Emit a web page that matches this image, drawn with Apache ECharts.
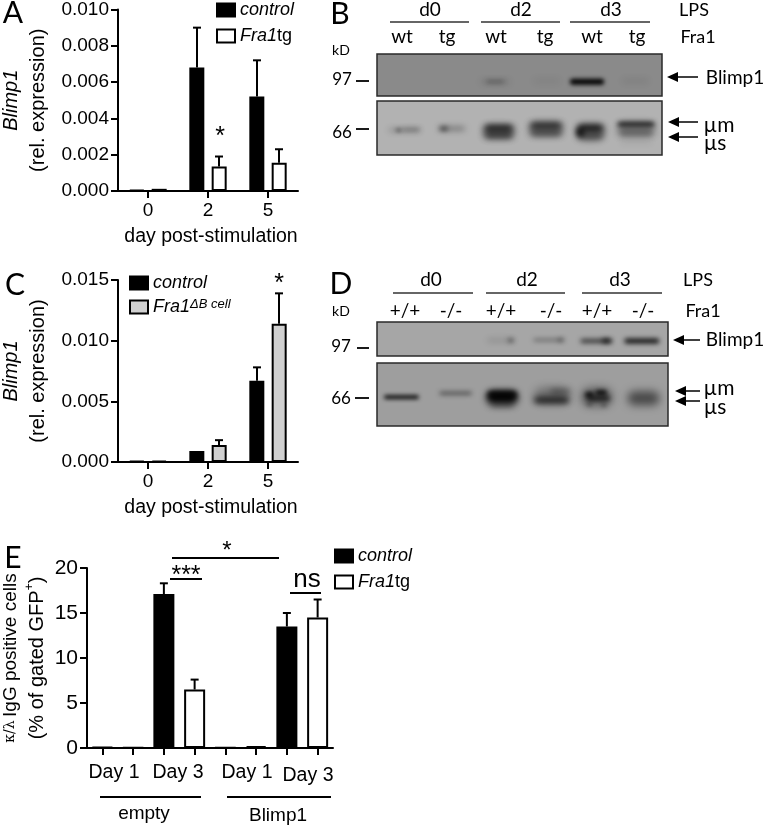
<!DOCTYPE html>
<html><head><meta charset="utf-8">
<style>html,body{margin:0;padding:0;background:#fff}#c{width:764px;height:827px}</style>
<script src="https://cdn.jsdelivr.net/npm/echarts@6/dist/echarts.min.js"></script>
</head><body><div id="c"></div>
<script>
// ---- Panel A ----
const daysA = ['0','2','5'];
const controlA = [0.00005,0.0068,0.0052];
const controlAErr = [null,0.0090,0.0072];
const fraA = [0.00012,0.00135,0.00155];
const fraAErr = [null,0.0019,0.0023];
// ---- Panel C ----
const daysC = ['0','2','5'];
const controlC = [0.00007,0.0009,0.0067];
const controlCErr = [null,null,0.0078];
const fraC = [0.0001,0.0014,0.0114];
const fraCErr = [null,0.0018,0.0139];
// ---- Panel E ----
const catsE = ['c1','f1','c3','f3','bc1','bf1','bc3','bf3'];
const controlE = [0.1,null,17.1,null,0.03,null,13.5,null];
const controlEErr = [null,null,18.3,null,null,null,15.0,null];
const fraE = [null,0.05,null,6.5,null,0.2,null,14.5];
const fraEErr = [null,null,null,7.6,null,null,null,16.5];
// ---- Blot bands: lane-x %, y %, width %, height %, darkness, blur ----
const blotBTop = [[41.5,66,6,3,.75,5],[41.5,66,10,4,.35,6],[59.6,64,9,3,.25,7],[73.7,66,12,14,1,4],[90.6,64,9,3,.32,7]];
const blotBBot = [[9.6,54,11,3,.45,6],[7.6,54,2,5,.6,4],[12,53,6,3,.55,5],[26.3,51,9,5,.55,6],[23.4,51,3,7,.6,5],
  [42.7,57,11,24,.45,7],[42.7,50,10,9,.92,6],[42.7,64,10,8,.7,6],[59.3,52,12,26,.4,7],[59.3,45,11,8,.95,6],[59.3,60,11,7,.62,6],
  [74.9,58,10,30,.4,7],[74.9,50,9,11,.92,6],[74.9,65,9,7,.6,6],[71.3,58,3,17,.7,5],[90.9,52,13,24,.35,7],[90.9,43,13,7,.98,5],[90.9,60,12,5,.55,6],[90.9,76,11,3,.2,6]];
const blotDTop = [[42.4,54,9,5,.32,6],[46,54,2,8,.72,5],[58.8,53,10,6,.55,5],[63.3,53,2,7,.6,5],
  [75.4,56,11,10,.8,5],[78.8,55,3,12,.8,5],[91,56,12,13,1,5]];
const blotDBot = [[8.4,54,12,6,1,4],[27,48,11,3,.85,5],[43,55,11,22,.95,7],[43,50,10,10,.9,5],[43,67,8,5,.5,6],
  [60,52,12,26,.3,8],[60,59,12,8,.95,6],[63,45,7,6,.5,6],
  [75.5,54,11,30,.4,8],[73,50,3,8,.85,4],[77,47,4,8,.85,4],[76,56,8,8,.75,5],[73,66,2,4,.5,4],[78,67,2,4,.5,4],[91.6,56,11,22,.55,9]];
// ---- Blot labels ----
const lpsGroups = ['d0','d2','d3'];
const laneB = ['wt','tg','wt','tg','wt','tg'];
const laneD = ['+/+','-/-','+/+','-/-','+/+','-/-'];

const BF='"Liberation Sans",Arial,sans-serif', CF='Lato,"Open Sans",sans-serif';
const black='#000';

function barS(name,xi,vals,color,gap,width){
  return {type:'bar',name,xAxisIndex:xi,yAxisIndex:xi,data:vals,barWidth:width,barGap:gap,
    itemStyle:{color,borderColor:black,borderWidth:2},silent:true};
}
function errS(xi,vals,tops,off){
  return {type:'custom',name:'err'+xi+off,xAxisIndex:xi,yAxisIndex:xi,silent:true,z:1,clip:false,
    data:tops.map((t,i)=>t==null?null:[i,vals[i],t]).filter(Boolean),
    encode:{x:0,y:[1,2]},
    renderItem(p,api){
      const b=api.coord([api.value(0),api.value(1)]), t=api.coord([api.value(0),api.value(2)]);
      const x=b[0]+off;
      return {type:'group',children:[
        {type:'line',shape:{x1:x,y1:b[1],x2:x,y2:t[1]},style:{stroke:black,lineWidth:2}},
        {type:'line',shape:{x1:x-4,y1:t[1],x2:x+4,y2:t[1]},style:{stroke:black,lineWidth:2}}]};
    }};
}
function blotS(xi,data){
  return {type:'custom',name:'blot'+xi,xAxisIndex:xi,yAxisIndex:xi,silent:true,clip:true,data,
    encode:{x:0,y:1},
    renderItem(p,api){
      const c=api.coord([api.value(0),api.value(1)]);
      const s=api.size([api.value(2),api.value(3)]);
      const a=api.value(4), bl=api.value(5), far=3000;
      return {type:'rect',shape:{x:c[0]-s[0]/2-far,y:c[1]-s[1]/2,width:s[0],height:s[1],r:Math.min(s[0],s[1])/2},
        style:{fill:'#000',shadowColor:'rgba(0,0,0,'+a+')',shadowBlur:bl,shadowOffsetX:far}};
    }};
}
const axisL={show:true,onZero:false,lineStyle:{color:black,width:2}};
const tick=(n)=>({show:true,length:n,alignWithLabel:true,lineStyle:{color:black,width:2}});
function xCat(gi,data,name,gap,size){
  return {type:'category',gridIndex:gi,data,axisLine:axisL,axisTick:tick(7),
    axisLabel:{color:black,fontFamily:BF,fontSize:size||19,margin:10,show:true,interval:0},
    name:name||'',nameLocation:'middle',nameGap:gap||0,
    nameTextStyle:{color:black,fontFamily:BF,fontSize:19.5,padding:[0,0,0,6]}};
}
function yVal(gi,max,interval,dec,nameRich,gap,size,rich){
  return {type:'value',gridIndex:gi,min:0,max,interval,splitLine:{show:false},
    axisLine:axisL,axisTick:tick(7),
    axisLabel:{color:black,fontFamily:BF,fontSize:size||19,margin:9,formatter:v=>v.toFixed(dec)},
    name:nameRich,nameLocation:'middle',nameGap:gap,nameRotate:90,
    nameTextStyle:{color:black,fontFamily:BF,rich}};
}
function hiddenX(gi){return {type:'value',gridIndex:gi,min:0,max:100,show:false};}
function hiddenY(gi){return {type:'value',gridIndex:gi,min:0,max:100,inverse:true,show:false};}

const richAC={i:{fontFamily:BF,fontStyle:'italic',fontSize:20,lineHeight:27,color:black},
              n:{fontFamily:BF,fontSize:20,lineHeight:27,color:black}};
const richE={a:{fontFamily:BF,fontSize:19,lineHeight:27,color:black},
             g:{fontFamily:'"DejaVu Serif",serif',fontSize:14,lineHeight:27,color:black},
             n:{fontFamily:BF,fontSize:20,lineHeight:27,color:black},
             s:{fontFamily:BF,fontSize:12,lineHeight:20,color:black,verticalAlign:'top'}};

const legRich={i:{fontFamily:BF,fontStyle:'italic',fontSize:18,color:black},
  n:{fontFamily:BF,fontSize:18,color:black},
  s:{fontFamily:BF,fontStyle:'italic',fontSize:13,color:black,verticalAlign:'top',lineHeight:18}};
const legFmt=n=>({control:'{i|control}',Fra1tg:'{i|Fra1}{n|tg}',Fra1dB:'{i|Fra1}{s|\u0394B cell}'}[n]);
function legend(left,top,data,gap){
  return {left,top,data,orient:'vertical',itemWidth:18,itemHeight:13,itemGap:gap,selectedMode:false,
    icon:'rect',formatter:legFmt,textStyle:{rich:legRich,color:black},padding:0};
}

// ---- static annotation helpers ----
const gfx=[];
function T(text,x,y,size,font,opt){
  gfx.push({type:'text',silent:true,style:Object.assign({text,x,y,fontSize:size,fontFamily:font||BF,fill:black,
    textAlign:'center',textVerticalAlign:'middle'},opt||{})});
}
function L(x1,y1,x2,y2,w,col){
  gfx.push({type:'line',silent:true,shape:{x1,y1,x2,y2},style:{stroke:col||black,lineWidth:w||1.5}});
}
function Arrow(xTail,xTip,y){
  L(xTail,y,xTip+6,y,1.5);
  gfx.push({type:'polygon',silent:true,shape:{points:[[xTip,y],[xTip+11,y-5],[xTip+11,y+5]]},style:{fill:black}});
}
// panel letters
[['A',13,13],['B',340,14],['C',15,285],['D',341,284],['E',13,558]].forEach(a=>T(a[0],a[1],a[2],30,CF));
// stars
T('*',220,137,25,BF);T('*',279,284,25,BF);
T('*',227,551,24,BF);T('***',186,576,25,BF);T('ns',307,580,26,BF);
L(172,558,279,558,2);L(170,579,202,579,2);L(290,593,321,593,2);
// E group labels
T('Day 1',114,773,19.5);T('Day 3',178,773,19.5);T('Day 1',247,773,19.5);T('Day 3',308,776,19.5);
L(100,797,201,797,2);L(227,797,331,797,2);
T('empty',144,814,19);T('Blimp1',278,816,19);

// Blot B labels
[[430,390,469],[521,481,560],[611,570,650]].forEach((g,i)=>{T(lpsGroups[i],g[0],10,19,CF);L(g[1],22,g[2],22,1.5,'#333');});
[402,447,496,545,592,637].forEach((x,i)=>T(laneB[i],x,37,19,CF));
T('LPS',694,10,18,CF);T('Fra1',698,37,18,CF);T('kD',341,50,14,CF);
T('97',342,80,17,CF);T('66',342,133,17,CF);L(356,81,369,81,1.8);L(356,129,369,129,1.8);
Arrow(698,667,77);Arrow(698,668,122);Arrow(698,668,137);
T('Blimp1',735,78,19,CF);T('\u00b5m',719,125,21,CF);T('\u00b5s',715,143,21,CF);
// Blot D labels
[[431,393,473],[527,486,565],[620,582,662]].forEach((g,i)=>{T(lpsGroups[i],g[0],280,19,CF);L(g[1],293,g[2],293,1.5,'#333');});
[405,451,501,551,597,643].forEach((x,i)=>T(laneD[i],x,311,19,CF));
T('LPS',698,280,18,CF);T('Fra1',703,311,18,CF);T('kD',341,311,14,CF);
T('97',341,347,17,CF);T('66',341,399,17,CF);L(357,348,369,348,1.8);L(355,398,369,398,1.8);
Arrow(700,673,340);Arrow(700,675,391);Arrow(700,675,401);
T('Blimp1',735,340,19,CF);T('\u00b5m',719,388,21,CF);T('\u00b5s',715,407,21,CF);

const GAP='49%';
const option={
  animation:false,backgroundColor:'#fff',
  grid:[
    {left:118,top:9,width:180,height:182},
    {left:118,top:280,width:180,height:182},
    {left:87,top:568,width:246,height:180},
    {left:377,top:54,width:285,height:42,show:true,backgroundColor:'#8a8a8a',borderColor:'#2a2a2a',borderWidth:1.5},
    {left:377,top:101,width:285,height:54,show:true,backgroundColor:'#b2b2b2',borderColor:'#2a2a2a',borderWidth:1.5},
    {left:377,top:322,width:291,height:34,show:true,backgroundColor:'#a6a6a6',borderColor:'#2a2a2a',borderWidth:1.5},
    {left:377,top:363,width:291,height:63,show:true,backgroundColor:'#9e9e9e',borderColor:'#2a2a2a',borderWidth:1.5}
  ],
  xAxis:[xCat(0,daysA,'day post-stimulation',36),xCat(1,daysC,'day post-stimulation',36),
    Object.assign(xCat(2,catsE),{axisLabel:{show:false}}),
    hiddenX(3),hiddenX(4),hiddenX(5),hiddenX(6)],
  yAxis:[yVal(0,0.010,0.002,3,'{i|Blimp1}\n{n|(rel. expression)}',66,19,richAC),
    yVal(1,0.015,0.005,3,'{i|Blimp1}\n{n|(rel. expression)}',66,19,richAC),
    yVal(2,20,5,0,'{g|\u03ba/\u03bb} {a|IgG positive cells}\n{n|(% of gated GFP}{s|+}{n|)}',36,21,richE),
    hiddenY(3),hiddenY(4),hiddenY(5),hiddenY(6)],
  legend:[legend(216,1,['control','Fra1tg'],8),legend(129,274,['control','Fra1dB'],6),legend(334,547,['control','Fra1tg'],8)],
  series:[
    barS('control',0,controlA,black,GAP,15),barS('Fra1tg',0,fraA,'#fff',GAP,15),
    errS(0,controlA,controlAErr,-11),errS(0,fraA,fraAErr,11),
    barS('control',1,controlC,black,GAP,15),barS('Fra1dB',1,fraC,'#d0d0d0',GAP,15),
    errS(1,controlC,controlCErr,-11),errS(1,fraC,fraCErr,11),
    barS('control',2,controlE,black,'-100%',21),barS('Fra1tg',2,fraE,'#fff','-100%',21),
    errS(2,controlE,controlEErr,0),errS(2,fraE,fraEErr,0),
    blotS(3,blotBTop),blotS(4,blotBBot),blotS(5,blotDTop),blotS(6,blotDBot)
  ],
  graphic:gfx
};
echarts.init(document.getElementById('c'),null,{renderer:'canvas'}).setOption(option);
</script></body></html>
